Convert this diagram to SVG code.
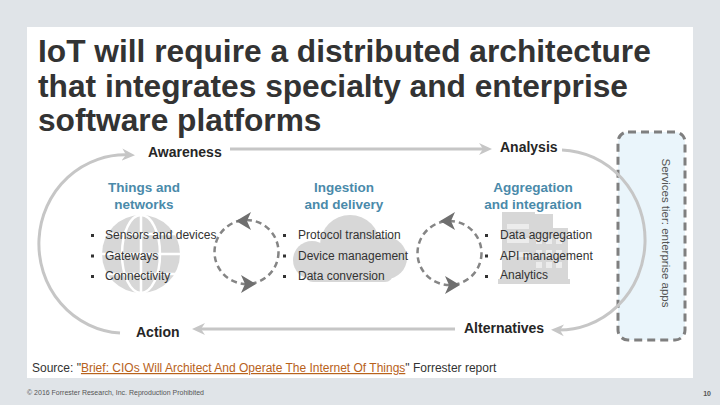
<svg xmlns="http://www.w3.org/2000/svg" xmlns:xlink="http://www.w3.org/1999/xlink" width="720" height="405" viewBox="0 0 720 405">
<style>
.ttl{font-family:"Liberation Sans",Arial,sans-serif;font-weight:bold;font-size:31.7px;fill:#333}
.stage{font-family:"Liberation Sans",Arial,sans-serif;font-weight:bold;font-size:14px;fill:#262626}
.head{font-family:"Liberation Sans",Arial,sans-serif;font-weight:bold;font-size:13.5px;fill:#4a8aaa;text-anchor:middle}
.bul{font-family:"Liberation Sans",Arial,sans-serif;font-size:12px;fill:#333}
.src{font-family:"Liberation Sans",Arial,sans-serif;font-size:12px;fill:#333}
.flow{fill:none;stroke:#c6c6c6;stroke-width:3}
.cyc{fill:none;stroke:#858585;stroke-width:2.5;stroke-dasharray:6 4}
.icon{fill:#d7d7d7}
</style>
<defs>
<marker id="ah" markerUnits="userSpaceOnUse" markerWidth="14" markerHeight="14" viewBox="0 0 14 14" refX="8" refY="7" orient="auto">
<path d="M0,1 L13,7 L0,13 L4,7 Z" fill="#c6c6c6"/>
</marker>
<path id="chev" d="M9,0 L-6,-9 L-2,0 L-6,9 Z" fill="#6f6f6f"/>
</defs>
<rect width="720" height="405" fill="#e0e4e8"/>
<rect x="27" y="27" width="666" height="351" fill="#ffffff"/>
<g id="title">
<text class="ttl" x="38" y="62">IoT will require a distributed architecture</text>
<text class="ttl" x="38" y="97">that integrates specialty and enterprise</text>
<text class="ttl" x="38" y="131">software platforms</text>
</g>
<g id="services">
<rect x="618" y="132" width="67" height="208" rx="10" fill="#eaf5fb" stroke="#7f7f7f" stroke-width="3" stroke-dasharray="8 5"/>
<text transform="translate(662,233) rotate(90)" text-anchor="middle" font-family="Liberation Sans, Arial, sans-serif" font-size="11.5" fill="#555">Services tier: enterprise apps</text>
</g>
<g id="things">
<circle class="icon" cx="141" cy="254" r="39"/>
<g fill="none" stroke="#fff" stroke-width="2.5">
<line x1="141" y1="215" x2="141" y2="293"/>
<ellipse cx="141" cy="254" rx="19" ry="39"/>
<line x1="104" y1="234" x2="178" y2="234"/>
<line x1="102" y1="254" x2="180" y2="254"/>
<line x1="104" y1="274" x2="178" y2="274"/>
</g>
<text class="head" x="144" y="192">Things and</text>
<text class="head" x="144" y="209">networks</text>
<rect x="91" y="234" width="3" height="3" fill="#333"/>
<rect x="91" y="254.5" width="3" height="3" fill="#333"/>
<rect x="91" y="275" width="3" height="3" fill="#333"/>
<text class="bul" x="105" y="239">Sensors and devices</text>
<text class="bul" x="105" y="259.5">Gateways</text>
<text class="bul" x="105" y="280">Connectivity</text>
</g>
<g id="ingestion">
<g class="icon">
<circle cx="312" cy="260" r="19"/>
<circle cx="350" cy="245" r="30"/>
<circle cx="386" cy="258" r="21"/>
<rect x="305" y="255" width="88" height="27" rx="8"/>
</g>
<text class="head" x="344" y="192">Ingestion</text>
<text class="head" x="344" y="209">and delivery</text>
<rect x="283" y="234" width="3" height="3" fill="#333"/>
<rect x="283" y="254.5" width="3" height="3" fill="#333"/>
<rect x="283" y="275" width="3" height="3" fill="#333"/>
<text class="bul" x="298" y="239">Protocol translation</text>
<text class="bul" x="298" y="259.5">Device management</text>
<text class="bul" x="298" y="280">Data conversion</text>
</g>
<g id="aggregation">
<g class="icon">
<rect x="502" y="212" width="33" height="71"/>
<rect x="522" y="214" width="31" height="20"/>
<rect x="530" y="228" width="38" height="55"/>
<rect x="498" y="279" width="72" height="5"/>
</g>
<g fill="#ececec">
<rect x="507" y="224" width="22" height="5"/>
<rect x="507" y="238" width="22" height="5"/>
<rect x="507" y="252" width="22" height="5"/>
<rect x="536" y="238" width="6" height="6"/><rect x="546" y="238" width="6" height="6"/><rect x="556" y="238" width="6" height="6"/>
<rect x="536" y="250" width="6" height="6"/><rect x="546" y="250" width="6" height="6"/><rect x="556" y="250" width="6" height="6"/>
<rect x="536" y="262" width="6" height="6"/><rect x="546" y="262" width="6" height="6"/><rect x="556" y="262" width="6" height="6"/>
</g>
<text class="head" x="533" y="192">Aggregation</text>
<text class="head" x="533" y="209">and integration</text>
<rect x="485" y="234" width="3" height="3" fill="#333"/>
<rect x="485" y="254.5" width="3" height="3" fill="#333"/>
<rect x="485" y="275" width="3" height="3" fill="#333"/>
<text class="bul" x="500" y="239">Data aggregation</text>
<text class="bul" x="500" y="259.5">API management</text>
<text class="bul" x="500" y="279">Analytics</text>
</g>
<g id="cycle1">
<circle class="cyc" cx="246.5" cy="252" r="32"/>
<use href="#chev" transform="translate(245,221) rotate(180)"/>
<use href="#chev" transform="translate(247,284)"/>
</g>
<g id="cycle2">
<circle class="cyc" cx="449.5" cy="253" r="32"/>
<use href="#chev" transform="translate(449,221) rotate(180)"/>
<use href="#chev" transform="translate(451,285)"/>
</g>
<g id="awareness"><text class="stage" x="148" y="157">Awareness</text></g>
<g id="analysis"><text class="stage" x="500" y="152">Analysis</text></g>
<g id="action"><text class="stage" x="136" y="337">Action</text></g>
<g id="alternatives"><text class="stage" x="464" y="333">Alternatives</text></g>
<g id="connectors">
<path class="flow" d="M230,149 L487,149" marker-end="url(#ah)"/>
<path class="flow" d="M562,150 A86 90 0 0 1 556,330" marker-end="url(#ah)"/>
<path class="flow" d="M455,329 L197,329" marker-end="url(#ah)"/>
<path class="flow" d="M120,333 A86 89 0 0 1 130,155" marker-end="url(#ah)"/>
</g>
<g id="source">
<text class="src" x="32" y="372">Source: "<tspan fill="#b8621b" text-decoration="underline">Brief: CIOs Will Architect And Operate The Internet Of Things</tspan>" Forrester report</text>
</g>
<g id="footer">
<text x="27" y="395" font-family="Liberation Sans, Arial, sans-serif" font-size="6.5" fill="#555" textLength="177" lengthAdjust="spacingAndGlyphs">© 2016 Forrester Research, Inc. Reproduction Prohibited</text>
<text x="711" y="396" text-anchor="end" font-family="Liberation Sans, Arial, sans-serif" font-size="7" font-weight="bold" fill="#555">10</text>
</g>
</svg>
